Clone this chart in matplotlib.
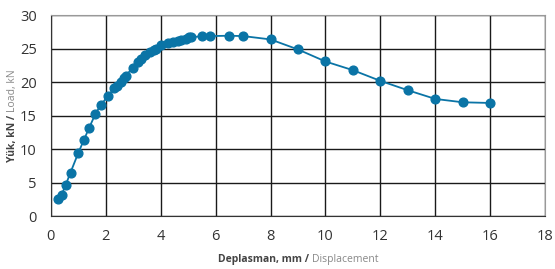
import matplotlib
matplotlib.use('Agg')
import matplotlib.pyplot as plt

# load-displacement readings
displacement = [0.25, 0.4, 0.55, 0.72, 1.0, 1.2, 1.4, 1.62, 1.82, 2.1, 2.32, 2.42, 2.54, 2.66, 2.73,
                3.0, 3.18, 3.3, 3.43, 3.6, 3.75, 3.85, 4.03, 4.28, 4.45, 4.63, 4.76, 4.92, 5.03, 5.12,
                5.5, 5.8, 6.5, 7.0, 8.0, 9.0, 10.0, 11.0, 12.0, 13.0, 14.0, 15.0, 16.0]
load = [2.5, 3.2, 4.7, 6.5, 9.4, 11.3, 13.2, 15.2, 16.6, 18.0, 19.2, 19.5, 20.1, 20.7, 21.0,
        22.2, 23.0, 23.4, 24.0, 24.5, 24.8, 25.0, 25.5, 25.9, 26.0, 26.1, 26.3, 26.5, 26.7, 26.7,
        26.9, 26.9, 26.95, 26.9, 26.4, 24.9, 23.1, 21.8, 20.2, 18.8, 17.5, 17.0, 16.9]

x_ticks = [0, 2, 4, 6, 8, 10, 12, 14, 16, 18]
y_ticks = [0, 5, 10, 15, 20, 25, 30]

blue = '#0a74a6'
plt.rcParams['font.family'] = ['Open Sans', 'DejaVu Sans']

fig = plt.figure(figsize=(5.55, 2.69), dpi=100)
ax = fig.add_axes([0.0914, 0.197, 0.891, 0.746])

ax.plot(displacement, load, color=blue, linewidth=1.3, marker='o', markersize=6.3, zorder=3)

ax.set_xlim(0, 18)
ax.set_ylim(0, 30)
ax.set_xticks(x_ticks)
ax.set_yticks(y_ticks)
ax.grid(True, color='#1a1a1a', linewidth=1.0)
ax.set_axisbelow(True)
for side in ['left', 'bottom']:
    ax.spines[side].set_color('#333333')
for side in ['top', 'right']:
    ax.spines[side].set_color('#999999')
ax.tick_params(length=0, labelsize=10.5, labelcolor='#333333')
ax.tick_params(axis='y', pad=10)
ax.tick_params(axis='x', pad=9)

# two-part labels: bold turkish + light english
fig.canvas.draw()
r = fig.canvas.get_renderer()

t1 = fig.text(0, 0.025, 'Deplasman, mm / ', fontsize=7.5, fontweight='bold', color='#444444')
t2 = fig.text(0, 0.025, 'Displacement', fontsize=7.5, color='#888888')
w1 = t1.get_window_extent(r).width
w2 = t2.get_window_extent(r).width
cx = 298
t1.set_x((cx - (w1 + w2) / 2) / 555)
t2.set_x((cx - (w1 + w2) / 2 + w1) / 555)

s1 = fig.text(0.012, 0, 'Yük, kN / ', fontsize=7.5, fontweight='bold', color='#444444',
              rotation=90, va='bottom')
s2 = fig.text(0.012, 0, 'Load, kN', fontsize=7.5, color='#888888', rotation=90, va='bottom')
h1 = s1.get_window_extent(r).height
h2 = s2.get_window_extent(r).height
cy = 269 - 115.5
s1.set_y((cy - (h1 + h2) / 2) / 269)
s2.set_y((cy - (h1 + h2) / 2 + h1) / 269)

fig.savefig('out.png', dpi=100)
